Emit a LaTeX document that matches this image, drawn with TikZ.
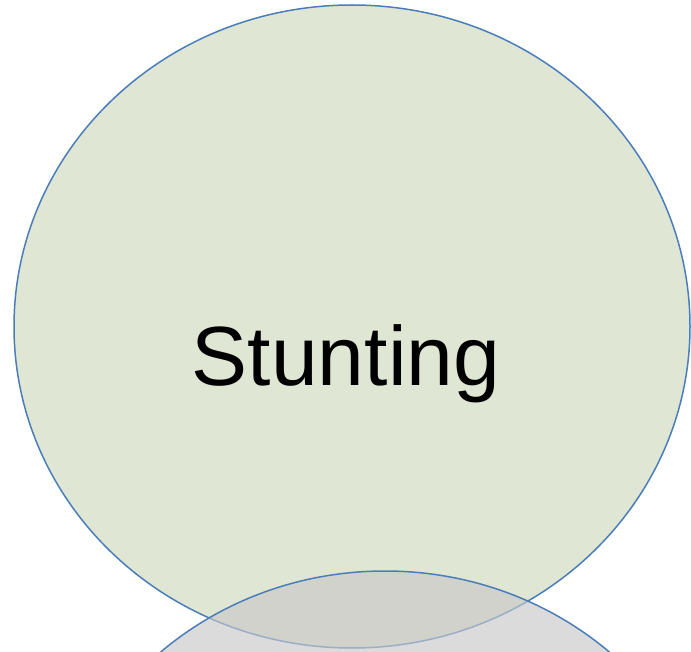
\documentclass[tikz,border=0pt]{standalone}
\usepackage{xcolor}
\usepackage{fontspec}
\setmainfont{Liberation Sans}
\usetikzlibrary{shapes.geometric}
\definecolor{vennblue}{HTML}{4A7EBB}
\definecolor{venngreen}{HTML}{DFE6D3}
\definecolor{venngray}{HTML}{C8C8C8}

\begin{document}
\begin{tikzpicture}[x=1pt, y=-1pt,
    venn/.style={ellipse, draw=vennblue, line width=1.5pt,
        minimum width=676pt, minimum height=643pt, inner sep=0pt}]
                \useasboundingbox (0,0) rectangle (691,652);
                \clip (0,0) rectangle (691,652);

                % First set
                \node[venn, fill=venngreen] (stunting) at (352,326.5) {};
                \node[anchor=base, font=\fontsize{84}{100}\selectfont] (label) at (346,385) {Stunting};

                % Second set, only its top shows
                \node[venn, fill=venngray, fill opacity=0.65] (lower) at (385,892.5) {};
            \end{tikzpicture}
\end{document}
